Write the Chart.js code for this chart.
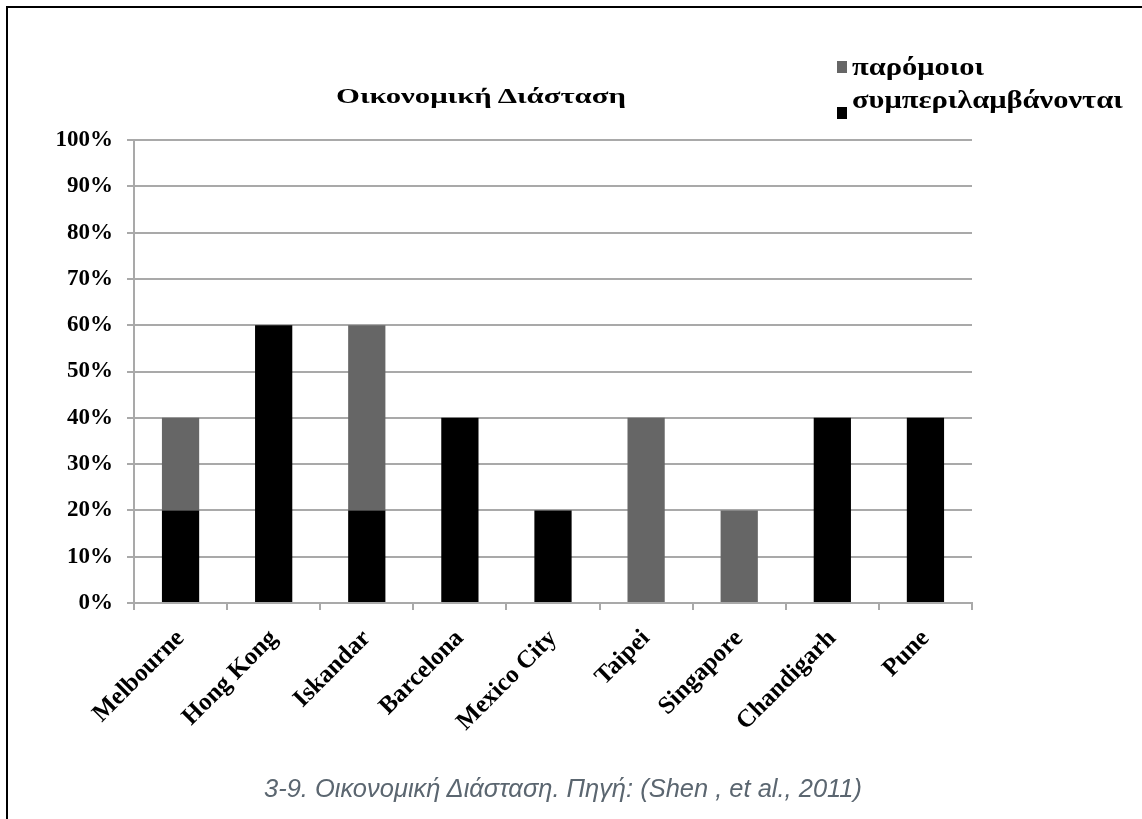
<!DOCTYPE html>
<html lang="el">
<head>
<meta charset="utf-8">
<title>Οικονομική Διάσταση</title>
<script src="https://cdn.jsdelivr.net/npm/chart.js@4.4.1/dist/chart.umd.min.js"></script>
<style>
  html, body { margin: 0; padding: 0; background: #fff; }
  body { width: 1142px; height: 819px; position: relative; overflow: hidden; }
  #frame {
    position: absolute; left: 6px; top: 6px; width: 1200px; height: 900px;
    border-top: 2px solid #000; border-left: 2px solid #000; box-sizing: border-box;
  }
  #chart { position: absolute; left: 0; top: 0; }
  .lbl { position: absolute; white-space: nowrap; line-height: 1; transform-origin: 0 50%; }
  #title { left: 336px; top: 83px; font: bold 22px "Liberation Serif", "DejaVu Serif", serif; color: #000; }
  .legtxt { font: bold 25px "Liberation Serif", serif; color: #000; }
  .legbox { position: absolute; width: 10px; height: 12px; }
  #caption { left: 264px; top: 774px; font: italic 25px "Liberation Sans", Arial, sans-serif; color: #5b6670; }
</style>
</head>
<body>
<div id="frame"></div>
<canvas id="chart" width="1142" height="819"></canvas>
<div id="title" class="lbl"></div>
<div id="legend"></div>
<div id="caption" class="lbl"></div>
<script>
// Cities on the horizontal axis
const cities = ['Melbourne', 'Hong Kong', 'Iskandar', 'Barcelona', 'Mexico City', 'Taipei', 'Singapore', 'Chandigarh', 'Pune'];
// Share of indicators (%) per city, stacked
const included = [20, 60, 20, 40, 20, 0, 0, 40, 40];   // συμπεριλαμβάνονται
const similar  = [20, 0, 40, 0, 0, 40, 20, 0, 0];       // παρόμοιοι
const seriesNames = ['συμπεριλαμβάνονται', 'παρόμοιοι'];
const seriesColors = ['#000000', '#666666'];
const yTicks = [0, 10, 20, 30, 40, 50, 60, 70, 80, 90, 100];
const chartTitle = 'Οικονομική Διάσταση';
const captionText = '3-9. Οικονομική Διάσταση. Πηγή: (Shen , et al., 2011)';

// Stretch a text element horizontally to a given width
function fitWidth(el, w) {
  const natural = el.getBoundingClientRect().width;
  el.style.transform = 'scaleX(' + (w / natural) + ')';
}

const titleEl = document.getElementById('title');
titleEl.textContent = chartTitle;
fitWidth(titleEl, 290);
const capEl = document.getElementById('caption');
capEl.textContent = captionText;
fitWidth(capEl, 598);

const serif = '"Liberation Serif", "DejaVu Serif", serif';
const gridColor = '#a9a9a9';

const datasets = [
  { label: seriesNames[0], data: included, backgroundColor: seriesColors[0] },
  { label: seriesNames[1], data: similar, backgroundColor: seriesColors[1] }
].map(d => Object.assign(d, { barPercentage: 0.4, categoryPercentage: 1.0, borderWidth: 0 }));

// Legend: grey series on the first row, black on the second
const legend = document.getElementById('legend');
const legendRows = [
  { idx: 1, textTop: 53, boxTop: 61 },
  { idx: 0, textTop: 86, boxTop: 107 }
];
legendRows.forEach(r => {
  const b = document.createElement('div');
  b.className = 'legbox';
  b.style.left = '837px';
  b.style.top = r.boxTop + 'px';
  b.style.background = datasets[r.idx].backgroundColor;
  const t = document.createElement('div');
  t.className = 'lbl legtxt';
  t.style.left = '852px';
  t.style.top = r.textTop + 'px';
  t.textContent = datasets[r.idx].label;
  legend.appendChild(b);
  legend.appendChild(t);
  t.style.transform = 'scaleX(1.22)';
});

new Chart(document.getElementById('chart'), {
  type: 'bar',
  data: { labels: cities, datasets },
  options: {
    responsive: false,
    animation: false,
    layout: { padding: { top: 140, right: 170, left: 0, bottom: 0 } },
    plugins: { legend: { display: false }, title: { display: false }, tooltip: { enabled: false } },
    scales: {
      x: {
        stacked: true,
        grid: { offset: true, drawOnChartArea: false, drawTicks: true, tickLength: 7, color: gridColor, lineWidth: 2 },
        border: { color: gridColor, width: 2 },
        ticks: {
          minRotation: 45, maxRotation: 45, padding: 14,
          color: '#000', font: { family: serif, size: 25, weight: 'bold' }
        },
        afterFit: s => { s.height = 216; }
      },
      y: {
        stacked: true,
        min: 0, max: 100,
        afterBuildTicks: s => { s.ticks = yTicks.map(v => ({ value: v })); },
        grid: { color: gridColor, lineWidth: 2, tickLength: 7 },
        border: { color: gridColor, width: 2 },
        ticks: {
          padding: 14, color: '#000',
          font: { family: serif, size: 23, weight: 'bold' },
          callback: v => v + '%'
        },
        afterFit: s => { s.width = 134; }
      }
    }
  }
});
</script>
</body>
</html>
